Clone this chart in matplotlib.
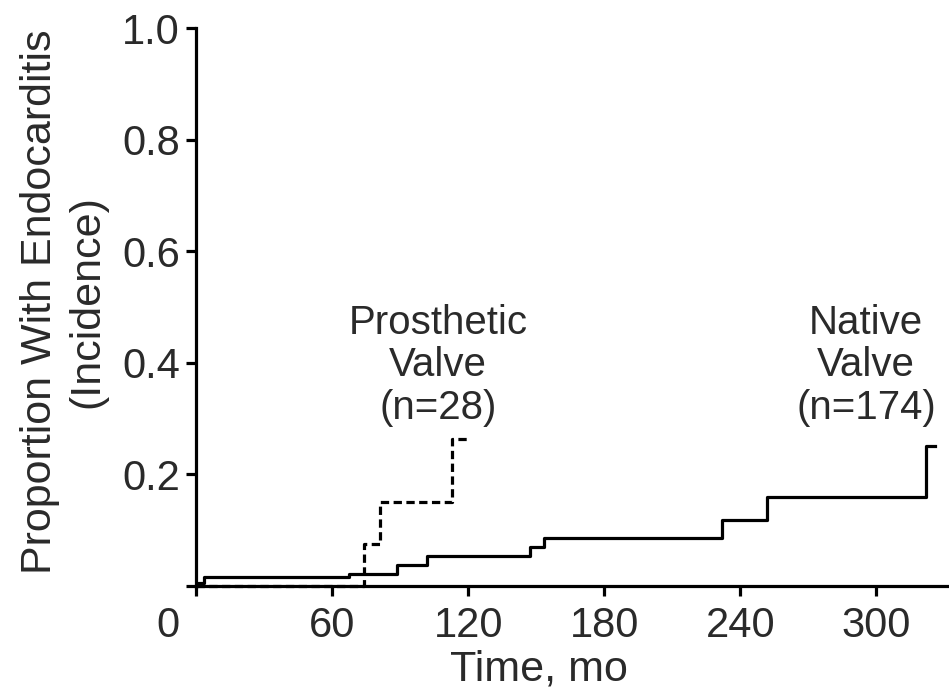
import matplotlib
matplotlib.use("Agg")
import matplotlib.pyplot as plt
import matplotlib.transforms as mtransforms

plt.rcParams["font.family"] = ["Liberation Sans", "DejaVu Sans"]

# cumulative incidence (months, proportion)
native_t = [0, 0.8, 3.6, 67.5, 88.6, 101.9, 147.3, 153.4, 231.9, 251.8, 321.9, 325.8]
native_p = [0, 0.005, 0.016, 0.022, 0.038, 0.054, 0.070, 0.086, 0.118, 0.160, 0.251, 0.251]

prosthetic_t = [0, 74.1, 81.1, 112.9, 119.5]
prosthetic_p = [0, 0.075, 0.151, 0.264, 0.264]

x_ticks = [0, 60, 120, 180, 240, 300]
y_ticks = [0, 0.2, 0.4, 0.6, 0.8, 1.0]
y_tick_labels = ["", "0.2", "0.4", "0.6", "0.8", "1.0"]

fig = plt.figure(figsize=(9.49, 6.92), dpi=100)
ax = fig.add_axes([196 / 949, 1 - 586 / 692, 1 - 196 / 949, (586 - 28) / 692])

lw = 2.3
ax.step(native_t, native_p, where="post", color="black", lw=lw, clip_on=False)
ax.step(prosthetic_t, prosthetic_p, where="post", color="black", lw=lw,
        linestyle=(0, (2.6, 1.4)), clip_on=False)

txt_color = "#2a2a2a"
ax.text(106.7, 0.505, "Prosthetic\nValve\n(n=28)", ha="center", va="top",
        fontsize=29, linespacing=1.14, color=txt_color)
ax.text(295.5, 0.505, "Native\nValve\n(n=174)", ha="center", va="top",
        fontsize=29, linespacing=1.14, color=txt_color)

ax.set_xlim(0, 332)
ax.set_ylim(0, 1.0)
ax.set_xticks(x_ticks)
ax.set_yticks(y_ticks)
ax.set_yticklabels(y_tick_labels)

for side in ("top", "right"):
    ax.spines[side].set_visible(False)
for side in ("left", "bottom"):
    ax.spines[side].set_linewidth(lw)

ax.tick_params(axis="both", direction="out", length=7.5, width=lw,
               labelsize=30, colors="black", labelcolor=txt_color)
ax.tick_params(axis="x", pad=7)
ax.tick_params(axis="y", pad=4)

# the "0" sits at the corner, left of the origin tick
offset = mtransforms.ScaledTranslation(-0.28, 0, fig.dpi_scale_trans)
first = ax.get_xticklabels()[0]
first.set_transform(first.get_transform() + offset)

ax.set_xlabel("Time, mo", fontsize=31, color=txt_color)
ax.xaxis.set_label_coords(0.455, -0.113)
ax.set_ylabel("Proportion With Endocarditis\n(Incidence)", fontsize=31,
              linespacing=1.22, color=txt_color)
ax.yaxis.set_label_coords(-0.118, 0.51)

fig.savefig("out.png", dpi=100)
